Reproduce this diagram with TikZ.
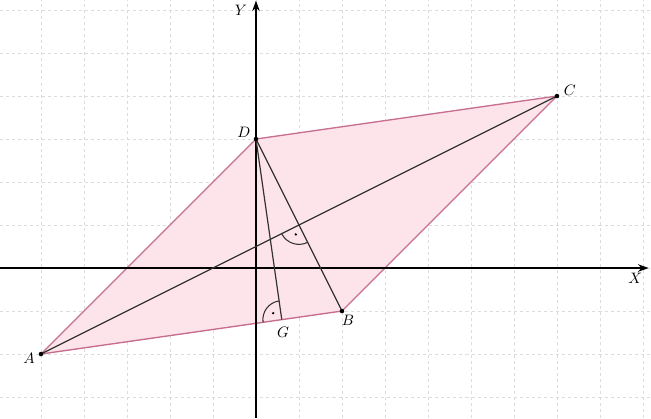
\documentclass[tikz,border=0pt]{standalone}
\usetikzlibrary{arrows.meta}
\definecolor{polyfill}{HTML}{FDE4EA}
\definecolor{polyedge}{HTML}{C86E90}
\definecolor{gridc}{HTML}{DCDCDC}
\definecolor{segc}{HTML}{333333}
\tikzset{
  gridline/.style={gridc, line width=0.5pt, dash pattern=on 2pt off 2pt},
  axis/.style={black, line width=0.9pt, -{Stealth[length=7pt,width=5pt]}},
  poly/.style={fill=polyfill, draw=polyedge, line width=0.9pt, line join=round},
  seg/.style={segc, line width=0.8pt},
  ptdot/.style={circle, fill=black, inner sep=0pt, minimum size=3pt},
  lbl/.style={inner sep=1pt, font=\normalsize},
  rmark/.style={segc, line width=0.7pt},
}
\begin{document}
\begin{tikzpicture}
\useasboundingbox (-5.953,-3.488) rectangle (9.186,6.233);
% grid
\foreach \x in {-5,...,9} \draw[gridline] (\x,-3.488) -- (\x,6.233);
\foreach \y in {-3,...,6} \draw[gridline] (-5.953,\y) -- (9.186,\y);
% points
\coordinate (A) at (-5,-2);
\coordinate (B) at (2,-1);
\coordinate (C) at (7,4);
\coordinate (D) at (0,3);
\coordinate (G) at (0.6,-1.2);
\coordinate (O) at (1,1);
% polygon
\draw[poly] (A) -- (B) -- (C) -- (D) -- cycle;
% axes
\coordinate (xs) at (-5.953,0);
\coordinate (xe) at (9.13,0);
\coordinate (ys) at (0,-3.488);
\coordinate (ye) at (0,6.22);
\draw[axis] (xs) -- (xe);
\draw[axis] (ys) -- (ye);
\node[lbl] (xl) at (8.82,-0.24) {$X$};
\node[lbl] (yl) at (-0.35,5.99) {$Y$};
% segments
\draw[seg] (A) -- (C);
\draw[seg] (D) -- (B);
\draw[seg] (D) -- (G);
% right angle marks
\draw[rmark] ([shift={(98.13:0.44)}]G) arc[start angle=98.13, end angle=188.13, radius=0.44];
\fill (G) ++(143.13:0.25) circle (0.03);
\draw[rmark] ([shift={(206.57:0.45)}]O) arc[start angle=206.57, end angle=296.57, radius=0.45];
\fill (O) ++(251.57:0.23) circle (0.03);
% dots
\foreach \p in {A,B,C,D} \node[ptdot] at (\p) {};
% labels
\node[lbl] (la) at (-5.28,-2.11) {$A$};
\node[lbl] (lb) at (2.14,-1.22) {$B$};
\node[lbl] (lc) at (7.3,4.13) {$C$};
\node[lbl] (ld) at (-0.28,3.15) {$D$};
\node[lbl] (lg) at (0.63,-1.5) {$G$};
\end{tikzpicture}
\end{document}
